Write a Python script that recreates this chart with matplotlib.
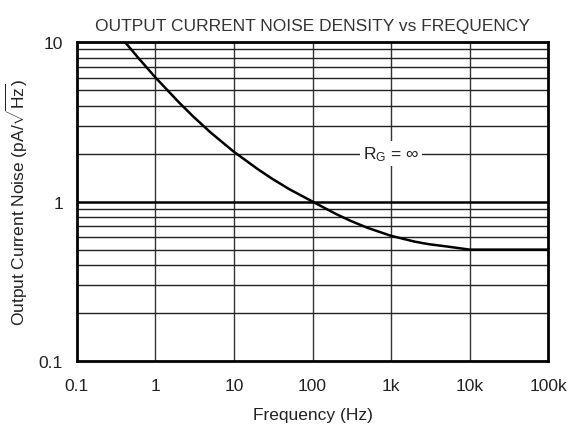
import matplotlib
matplotlib.use("Agg")
import matplotlib.pyplot as plt
import numpy as np

plt.rcParams['font.family'] = ['Liberation Sans', 'DejaVu Sans']
plt.rcParams['mathtext.fontset'] = 'custom'
plt.rcParams['mathtext.rm'] = 'Liberation Sans'
plt.rcParams['mathtext.it'] = 'Liberation Sans:italic'

# values (R_G = infinity)
freq = [0.41, 0.6, 1, 2, 3, 5, 10, 20, 30, 50, 100, 200, 300, 500, 1000, 2000, 3000, 5000, 10000, 30000, 100000]
noise = [10.0, 8.0, 6.0, 4.18, 3.43, 2.72, 2.05, 1.60, 1.40, 1.20, 1.0, 0.835, 0.76, 0.685, 0.61, 0.561, 0.541, 0.524, 0.5, 0.5, 0.5]

xticks = [0.1, 1, 10, 100, 1e3, 1e4, 1e5]
xlabels = ['0.1', '1', '10', '100', '1k', '10k', '100k']
yticks = [0.1, 1, 10]
ylabels = ['0.1', '1', '10']

fs = 12.5
fig = plt.figure(figsize=(5.87, 4.27), dpi=100)
ax = fig.add_axes([0.131, 0.152, 0.803, 0.747])
ax.set_xscale('log')
ax.set_yscale('log')
ax.set_xlim(0.1, 1e5)
ax.set_ylim(0.1, 10)

# grid: decade lines on x, every 1..9 on y
for x in xticks[1:-1]:
    ax.axvline(x, color='#333333', lw=1.0, zorder=1)
for dec in [0.1, 1]:
    for m in range(2, 10):
        ax.axhline(dec * m, color='#222222', lw=1.0, zorder=1)
ax.axhline(1, color='black', lw=1.8, zorder=1)

ax.plot(freq, noise, color='black', lw=1.8, zorder=3)

ax.text(1000, 2, r'R$_\mathrm{G}$ = ∞', ha='center', va='center', fontsize=fs,
        color='#222222', zorder=4,
        bbox=dict(facecolor='white', edgecolor='none', pad=2))

ax.set_xticks(xticks)
ax.set_xticklabels(xlabels)
ax.set_yticks(yticks)
ax.set_yticklabels(ylabels)
ax.minorticks_off()
ax.tick_params(length=0, labelsize=fs, colors='#222222')
ax.tick_params(axis='x', pad=12)
ax.tick_params(axis='y', pad=10)

for s in ax.spines.values():
    s.set_linewidth(2)
    s.set_color('black')
    s.set_zorder(5)

ax.set_xlabel('Frequency (Hz)', fontsize=fs, color='#222222', labelpad=10)
ax.set_ylabel(r'Output Current Noise (pA/$\sqrt{\mathrm{Hz}}$)', fontsize=fs,
              color='#222222', labelpad=6)
ax.set_title('OUTPUT CURRENT NOISE DENSITY vs FREQUENCY', fontsize=fs,
             color='#333333', pad=9)

fig.savefig('out.png', dpi=100)
